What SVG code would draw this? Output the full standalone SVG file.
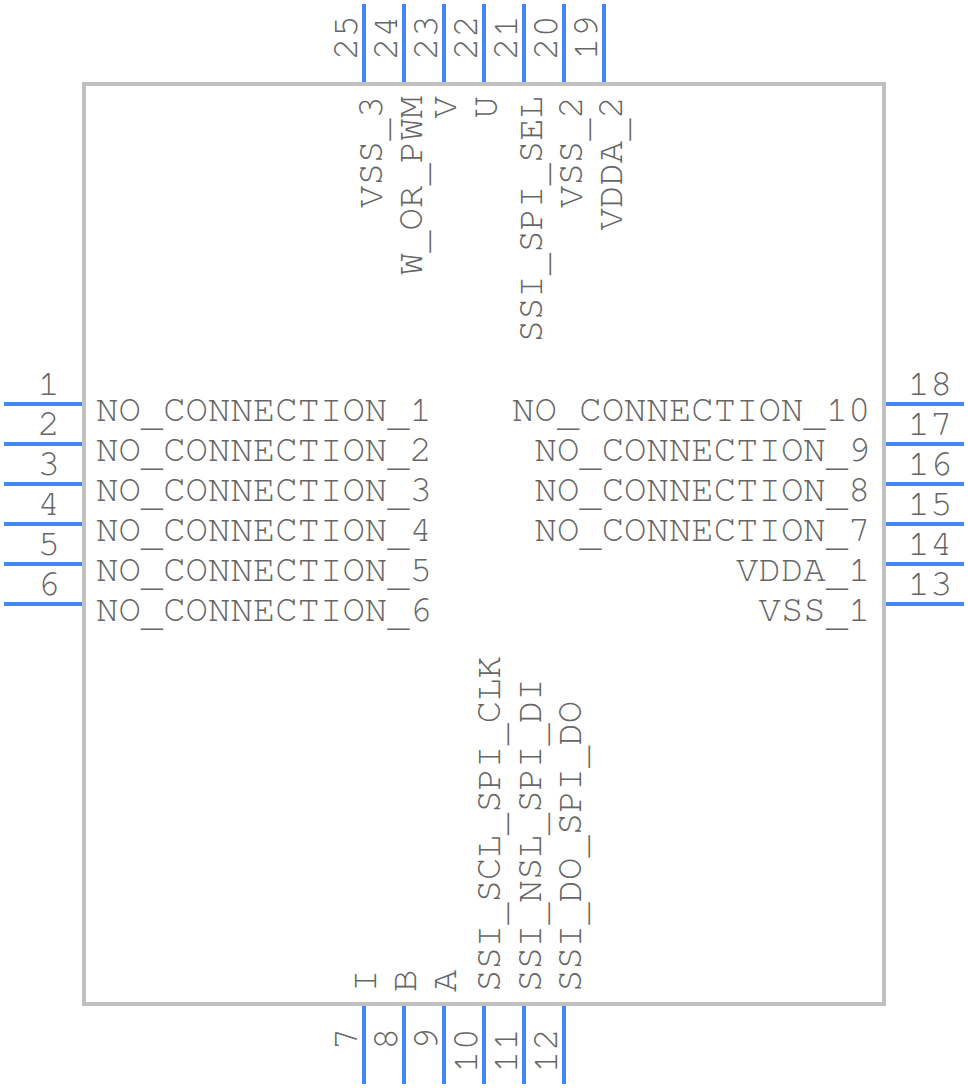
<svg xmlns="http://www.w3.org/2000/svg" width="968" height="1088" viewBox="0 0 968 1088">
<style>
text{font-family:FreeMono,"Liberation Mono",monospace;font-size:37.33px;fill:#666}
.e{text-anchor:end}
.p{stroke:#4287f5;stroke-width:4;fill:none}
.b{fill:#fff;stroke:#c0c0c0;stroke-width:4}
</style>
<rect width="968" height="1088" fill="#fff"/>
<g id="body"><rect class="b" x="84" y="84" width="800" height="920"/></g>
<g id="connectors">
<path class="p" d="M4 404H82M4 444H82M4 484H82M4 524H82M4 564H82M4 604H82"/>
<path class="p" d="M886 404H964M886 444H964M886 484H964M886 524H964M886 564H964M886 604H964"/>
<path class="p" d="M364 4V82M404 4V82M444 4V82M484 4V82M524 4V82M564 4V82M604 4V82"/>
<path class="p" d="M364 1006V1084M404 1006V1084M444 1006V1084M484 1006V1084M524 1006V1084M564 1006V1084"/>
</g>
<g id="pin1"><text class="e" x="60" y="395">1</text><text x="96" y="421">NO<tspan dy="4.5">_</tspan><tspan dy="-4.5">CONNECTION</tspan><tspan dy="4.5">_</tspan><tspan dy="-4.5">1</tspan></text></g>
<g id="pin2"><text class="e" x="60" y="435">2</text><text x="96" y="461">NO<tspan dy="4.5">_</tspan><tspan dy="-4.5">CONNECTION</tspan><tspan dy="4.5">_</tspan><tspan dy="-4.5">2</tspan></text></g>
<g id="pin3"><text class="e" x="60" y="475">3</text><text x="96" y="501">NO<tspan dy="4.5">_</tspan><tspan dy="-4.5">CONNECTION</tspan><tspan dy="4.5">_</tspan><tspan dy="-4.5">3</tspan></text></g>
<g id="pin4"><text class="e" x="60" y="515">4</text><text x="96" y="541">NO<tspan dy="4.5">_</tspan><tspan dy="-4.5">CONNECTION</tspan><tspan dy="4.5">_</tspan><tspan dy="-4.5">4</tspan></text></g>
<g id="pin5"><text class="e" x="60" y="555">5</text><text x="96" y="581">NO<tspan dy="4.5">_</tspan><tspan dy="-4.5">CONNECTION</tspan><tspan dy="4.5">_</tspan><tspan dy="-4.5">5</tspan></text></g>
<g id="pin6"><text class="e" x="60" y="595">6</text><text x="96" y="621">NO<tspan dy="4.5">_</tspan><tspan dy="-4.5">CONNECTION</tspan><tspan dy="4.5">_</tspan><tspan dy="-4.5">6</tspan></text></g>
<g id="pin18"><text x="907.5" y="395">18</text><text class="e" x="870.5" y="421">NO<tspan dy="4.5">_</tspan><tspan dy="-4.5">CONNECTION</tspan><tspan dy="4.5">_</tspan><tspan dy="-4.5">10</tspan></text></g>
<g id="pin17"><text x="907.5" y="435">17</text><text class="e" x="870.5" y="461">NO<tspan dy="4.5">_</tspan><tspan dy="-4.5">CONNECTION</tspan><tspan dy="4.5">_</tspan><tspan dy="-4.5">9</tspan></text></g>
<g id="pin16"><text x="907.5" y="475">16</text><text class="e" x="870.5" y="501">NO<tspan dy="4.5">_</tspan><tspan dy="-4.5">CONNECTION</tspan><tspan dy="4.5">_</tspan><tspan dy="-4.5">8</tspan></text></g>
<g id="pin15"><text x="907.5" y="515">15</text><text class="e" x="870.5" y="541">NO<tspan dy="4.5">_</tspan><tspan dy="-4.5">CONNECTION</tspan><tspan dy="4.5">_</tspan><tspan dy="-4.5">7</tspan></text></g>
<g id="pin14"><text x="907.5" y="555">14</text><text class="e" x="870.5" y="581">VDDA<tspan dy="4.5">_</tspan><tspan dy="-4.5">1</tspan></text></g>
<g id="pin13"><text x="907.5" y="595">13</text><text class="e" x="870.5" y="621">VSS<tspan dy="4.5">_</tspan><tspan dy="-4.5">1</tspan></text></g>
<g id="pin25"><text transform="translate(357 60) rotate(-90)">25</text><text class="e" transform="translate(382 96) rotate(-90)">VSS<tspan dy="4.5">_</tspan><tspan dy="-4.5">3</tspan></text></g>
<g id="pin24"><text transform="translate(397 60) rotate(-90)">24</text><text class="e" transform="translate(422 96) rotate(-90)">W<tspan dy="4.5">_</tspan><tspan dy="-4.5">OR</tspan><tspan dy="4.5">_</tspan><tspan dy="-4.5">PWM</tspan></text></g>
<g id="pin23"><text transform="translate(437 60) rotate(-90)">23</text><text class="e" transform="translate(456 96) rotate(-90)">V</text></g>
<g id="pin22"><text transform="translate(477 60) rotate(-90)">22</text></g>
<g id="pin21"><text transform="translate(517 60) rotate(-90)">21</text><text class="e" transform="translate(497 96) rotate(-90)">U</text></g>
<g id="pin20"><text transform="translate(557 60) rotate(-90)">20</text><text class="e" transform="translate(542 96) rotate(-90)">SSI<tspan dy="4.5">_</tspan><tspan dy="-4.5">SPI</tspan><tspan dy="4.5">_</tspan><tspan dy="-4.5">SEL</tspan></text></g>
<g id="pin19"><text transform="translate(597 60) rotate(-90)">19</text><text class="e" transform="translate(582 96) rotate(-90)">VSS<tspan dy="4.5">_</tspan><tspan dy="-4.5">2</tspan></text></g>
<g id="pinv2"><text class="e" transform="translate(622 96) rotate(-90)">VDDA<tspan dy="4.5">_</tspan><tspan dy="-4.5">2</tspan></text></g>
<g id="pin7"><text transform="translate(357 1050) rotate(-90)">7</text><text transform="translate(376 992) rotate(-90)">I</text></g>
<g id="pin8"><text transform="translate(397 1050) rotate(-90)">8</text><text transform="translate(416 992) rotate(-90)">B</text></g>
<g id="pin9"><text transform="translate(437 1050) rotate(-90)">9</text><text transform="translate(456 992) rotate(-90)">A</text></g>
<g id="pin10"><text transform="translate(477 1073) rotate(-90)">10</text><text transform="translate(500 992) rotate(-90)">SSI<tspan dy="4.5">_</tspan><tspan dy="-4.5">SCL</tspan><tspan dy="4.5">_</tspan><tspan dy="-4.5">SPI</tspan><tspan dy="4.5">_</tspan><tspan dy="-4.5">CLK</tspan></text></g>
<g id="pin11"><text transform="translate(517 1073) rotate(-90)">11</text><text transform="translate(541 992) rotate(-90)">SSI<tspan dy="4.5">_</tspan><tspan dy="-4.5">NSL</tspan><tspan dy="4.5">_</tspan><tspan dy="-4.5">SPI</tspan><tspan dy="4.5">_</tspan><tspan dy="-4.5">DI</tspan></text></g>
<g id="pin12"><text transform="translate(557 1073) rotate(-90)">12</text><text transform="translate(581 992) rotate(-90)">SSI<tspan dy="4.5">_</tspan><tspan dy="-4.5">DO</tspan><tspan dy="4.5">_</tspan><tspan dy="-4.5">SPI</tspan><tspan dy="4.5">_</tspan><tspan dy="-4.5">DO</tspan></text></g>
</svg>
